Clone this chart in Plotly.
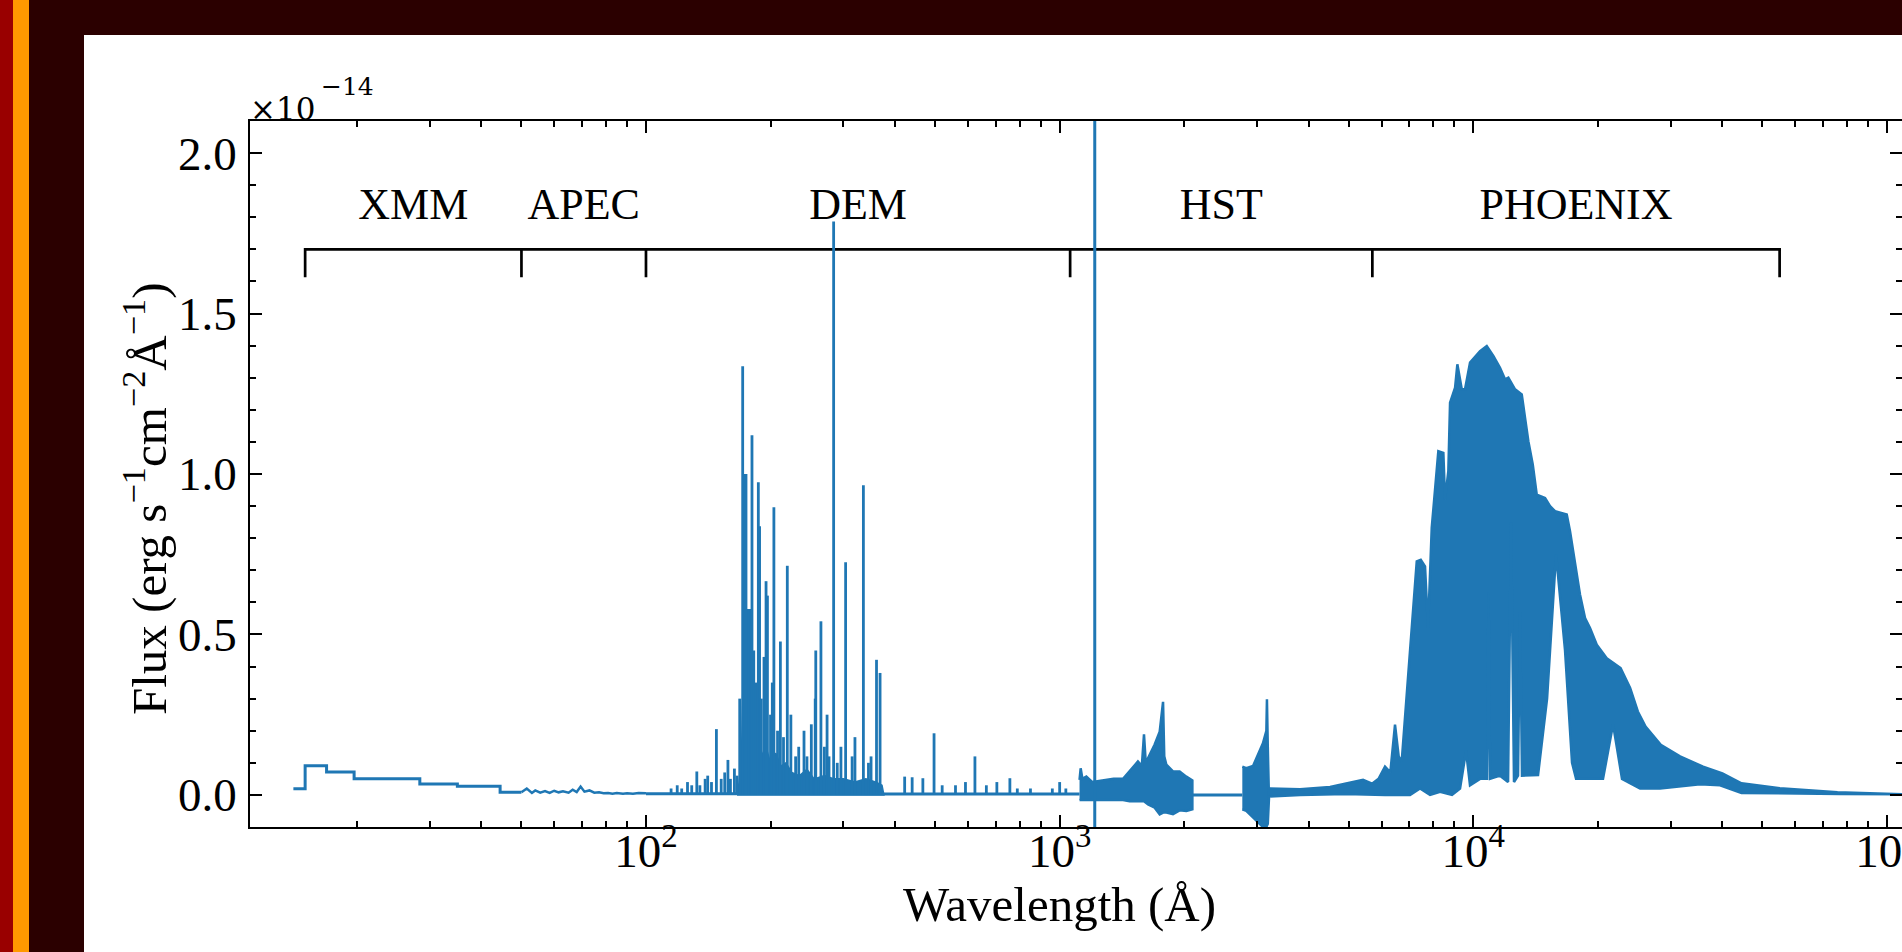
import math
import plotly.graph_objects as go

BLUE = "#1f77b4"
FONT = "Liberation Serif"

# ---------------- data (flux in units of 1e-14 erg s^-1 cm^-2 Å^-1) ----------------
# XMM binned spectrum: bin edges (Å) and flux per bin
xmm_edges = [14.05, 15.0, 16.9, 19.7, 28.4, 35.0, 44.4, 50.0]
xmm_flux = [0.019, 0.091, 0.071, 0.050, 0.034, 0.027, 0.008]

# APEC model (noisy, low level)
apec_wave = [50, 51.5, 53, 54, 55.5, 57, 58.5, 60, 61.5, 63, 65, 66.5, 68, 69.5, 71,
             73, 75, 77, 79, 81, 83, 85, 88, 90, 93, 96, 100]
apec_flux = [0.008, 0.020, 0.006, 0.014, 0.007, 0.012, 0.006, 0.013, 0.008, 0.011,
             0.007, 0.016, 0.009, 0.026, 0.010, 0.014, 0.007, 0.008, 0.005, 0.006,
             0.004, 0.006, 0.004, 0.005, 0.004, 0.006, 0.005]

# DEM continuum level
dem_base_wave = [100, 166, 376, 1117]
dem_base_flux = [0.004, 0.003, 0.003, 0.003]

# DEM: dense emission-line blend (upper edge)
blend_wave = [166, 168, 170, 171, 173, 179, 180, 183, 186, 190, 195, 200, 206, 212,
              218, 225, 235, 245, 255, 270, 285, 300, 320, 340, 360, 372, 376]
blend_top = [0.003, 0.04, 0.10, 0.30, 0.577, 0.577, 0.35, 0.20, 0.15, 0.12, 0.15,
             0.10, 0.13, 0.09, 0.10, 0.07, 0.06, 0.08, 0.05, 0.06, 0.05, 0.05, 0.04,
             0.05, 0.04, 0.03, 0.004]

# DEM: individual emission lines (wavelength Å, peak flux)
line_wave = [115, 119, 122, 126, 129, 132.7, 135, 139, 141, 144, 148, 152, 155, 157.8,
             160, 163.6, 166, 168.5, 171.3, 173.6, 174.5, 177.0, 180.4, 182.2, 184.5,
             186.9, 188.2, 190.0, 192.9, 195.1, 196.6, 200.0, 202.0, 203.8, 208.0,
             211.3, 215, 219.6, 224, 230, 234, 241, 245, 251, 256.5, 257.3, 264.8,
             270, 274, 277, 284.2, 290, 296, 303.8, 315, 320, 335.4, 345, 350, 360.8,
             368.0, 422, 440, 467, 497, 520, 560, 592, 624, 665, 705, 758, 790, 850,
             960, 1000, 1035]
line_peak = [0.02, 0.03, 0.02, 0.04, 0.03, 0.073, 0.03, 0.05, 0.06, 0.04, 0.205, 0.05,
             0.07, 0.109, 0.05, 0.082, 0.06, 0.30, 1.336, 1.0, 1.0, 0.577, 1.121, 0.45,
             0.35, 0.974, 0.837, 0.30, 0.43, 0.666, 0.621, 0.25, 0.35, 0.896, 0.20,
             0.478, 0.18, 0.714, 0.25, 0.12, 0.15, 0.20, 0.12, 0.22, 0.30, 0.45, 0.541,
             0.15, 0.25, 0.12, 1.787, 0.10, 0.15, 0.725, 0.12, 0.18, 0.965, 0.10, 0.12,
             0.421, 0.38, 0.057, 0.055, 0.052, 0.192, 0.03, 0.03, 0.04, 0.12, 0.03,
             0.04, 0.052, 0.02, 0.02, 0.02, 0.04, 0.02]

# Lyman alpha (goes off the top of the panel)
lya_wave = 1215.7
lya_low = -0.10
lya_peak = 3.0

# HST segment 1 (noisy band): wavelength, upper and lower edge
hst1_wave = [1117, 1124, 1135, 1160, 1200, 1285, 1350, 1423, 1476, 1546, 1580, 1599,
             1615, 1636, 1697, 1745, 1778, 1790, 1811, 1879, 1950, 2024, 2093]
hst1_upper = [0.047, 0.083, 0.050, 0.057, 0.040, 0.045, 0.050, 0.050, 0.073, 0.104,
              0.090, 0.189, 0.100, 0.115, 0.157, 0.197, 0.290, 0.120, 0.094, 0.073,
              0.073, 0.057, 0.045]
hst1_lower = [-0.016, -0.016, -0.016, -0.016, -0.016, -0.016, -0.016, -0.016, -0.020,
              -0.020, -0.020, -0.020, -0.025, -0.030, -0.040, -0.061, -0.055, -0.055,
              -0.055, -0.060, -0.048, -0.050, -0.045]

# gap between HST gratings
gap_wave = [2093, 2764]
gap_flux = [0.0, 0.0]

# HST segment 2
hst2_wave = [2764, 2826, 2934, 3044, 3100, 3160, 3170, 3185, 3206]
hst2_upper = [0.088, 0.083, 0.090, 0.139, 0.161, 0.200, 0.298, 0.150, 0.030]
hst2_lower = [-0.045, -0.050, -0.070, -0.090, -0.100, -0.100, -0.100, -0.090, -0.010]

# HST optical + PHOENIX model: upper edge of the dense band
phx_up_wave = [3206, 3812, 4504, 4923, 5412, 5690, 5900, 6116, 6300, 6466, 6600, 6712,
               7031, 7298, 7463, 7642, 7771, 7933, 8230, 8463, 8543, 8701, 8784, 9034,
               9149, 9376, 9548, 9818, 10380, 10775, 11177, 11600, 11929, 12151, 12613,
               13092, 13335, 13582, 13919, 14233, 14906, 15326, 15758, 16819, 17128,
               17612, 18109, 18621, 19145, 19876, 21011, 22695, 23933, 24982, 26078,
               28386, 31594, 35917, 39995, 44484, 55075, 75890, 108700]
phx_upper = [0.020, 0.018, 0.025, 0.036, 0.047, 0.035, 0.050, 0.088, 0.070, 0.219,
             0.120, 0.104, 0.450, 0.728, 0.733, 0.712, 0.520, 0.832, 1.071, 1.066,
             0.920, 1.009, 1.222, 1.269, 1.342, 1.264, 1.264, 1.347, 1.383, 1.399,
             1.368, 1.331, 1.295, 1.300, 1.264, 1.248, 1.175, 1.102, 1.030, 0.936,
             0.925, 0.900, 0.884, 0.874, 0.822, 0.718, 0.624, 0.551, 0.520, 0.468,
             0.426, 0.395, 0.333, 0.260, 0.213, 0.156, 0.120, 0.088, 0.067, 0.036,
             0.021, 0.008, 0.004]
# lower edge of the dense band
phx_low_wave = [3206, 3812, 4923, 6116, 7031, 7432, 7858, 8309, 8881, 9286, 9603, 9817,
                10380, 10793, 10882, 10975, 11600, 12132, 12334, 12540, 12823, 12966,
                13111, 13709, 14335, 15074, 15845, 16659, 17322, 17714, 20581, 21763,
                22878, 25291, 28264, 35318, 39480, 44484, 55075, 76960, 108700]
phx_lower = [-0.005, 0.000, 0.003, 0.000, 0.000, 0.020, 0.000, 0.010, 0.000, 0.020,
             0.137, 0.030, 0.050, 0.050, 0.630, 0.050, 0.060, 0.040, 0.850, 0.040,
             0.060, 0.570, 0.060, 0.060, 0.062, 0.300, 0.750, 0.450, 0.100, 0.050,
             0.050, 0.220, 0.050, 0.020, 0.020, 0.033, 0.030, 0.006, 0.006, 0.003,
             0.002]

# instrument / model segments
seg_edges = [15, 50, 100, 1060, 5700, 55000]
seg_names = ["XMM", "APEC", "DEM", "HST", "PHOENIX"]
bracket_top = 1.70
bracket_foot = 1.613
label_y = 1.83

# axis ticks
x_major = [100, 1000, 10000, 100000]
x_major_text = ["10<sup>2</sup>", "10<sup>3</sup>", "10<sup>4</sup>", "10<sup>5</sup>"]
x_minor = [m * 10 ** k for k in range(1, 5) for m in range(2, 10)]
y_major = [0.0, 0.5, 1.0, 1.5, 2.0]
y_major_text = ["0.0", "0.5", "1.0", "1.5", "2.0"]
y_minor = [0.1, 0.2, 0.3, 0.4, 0.6, 0.7, 0.8, 0.9, 1.1, 1.2, 1.3, 1.4, 1.6, 1.7,
           1.8, 1.9]

x_title = "Wavelength (Å)"
y_title = "Flux (erg s<sup>−1</sup>cm<sup>−2</sup>Å<sup>−1</sup>)"

# ---------------- layout geometry ----------------
W, H = 1902, 952
ML, MR, MT, MB = 250, 0, 121, 125
PW, PH = W - ML - MR, H - MT - MB


def px(xp):
    return (xp - ML) / PW


def py(yp):
    return (H - MB - yp) / PH


fig = go.Figure()

# bracket
bx, by = [], []
for i, e in enumerate(seg_edges):
    if i == 0:
        bx += [e, e]
        by += [bracket_foot, bracket_top]
    elif i == len(seg_edges) - 1:
        bx += [e, e]
        by += [bracket_top, bracket_foot]
    else:
        bx += [e, e, e]
        by += [bracket_top, bracket_foot, bracket_top]
fig.add_trace(go.Scatter(x=bx, y=by, mode="lines", line=dict(color="black", width=2.7),
                         hoverinfo="skip"))

line_style = dict(color=BLUE, width=3)

# XMM steps
fig.add_trace(go.Scatter(x=xmm_edges, y=xmm_flux + [xmm_flux[-1]], mode="lines",
                         line=dict(color=BLUE, width=3, shape="hv")))
# APEC
fig.add_trace(go.Scatter(x=apec_wave, y=apec_flux, mode="lines",
                         line=dict(color=BLUE, width=2.5)))
# DEM base
fig.add_trace(go.Scatter(x=dem_base_wave, y=dem_base_flux, mode="lines", line=line_style))
# DEM blend
fig.add_trace(go.Scatter(x=blend_wave + blend_wave[::-1],
                         y=blend_top + [0.0] * len(blend_wave), mode="lines",
                         fill="toself", fillcolor=BLUE, line=dict(color=BLUE, width=1.5)))
# DEM lines
lx, ly = [], []
for w, p in zip(line_wave, line_peak):
    lx += [w, w, None]
    ly += [0.0, p, None]
fig.add_trace(go.Scatter(x=lx, y=ly, mode="lines", line=dict(color=BLUE, width=2.8)))


def band(wu, up, wl, lo):
    fig.add_trace(go.Scatter(x=list(wu) + list(wl)[::-1], y=list(up) + list(lo)[::-1],
                             mode="lines", fill="toself", fillcolor=BLUE,
                             line=dict(color=BLUE, width=2.5)))


band(hst1_wave, hst1_upper, hst1_wave, hst1_lower)
fig.add_trace(go.Scatter(x=gap_wave, y=gap_flux, mode="lines", line=line_style))
band(hst2_wave, hst2_upper, hst2_wave, hst2_lower)
band(phx_up_wave, phx_upper, phx_low_wave, phx_lower)

# Lyman alpha
fig.add_trace(go.Scatter(x=[lya_wave, lya_wave], y=[lya_low, lya_peak], mode="lines",
                         line=dict(color=BLUE, width=3)))

# segment labels
label_x = [math.sqrt(a * b) for a, b in zip(seg_edges[:-1], seg_edges[1:])]
fig.add_trace(go.Scatter(x=label_x, y=[label_y] * len(seg_names), mode="text",
                         text=seg_names, textposition="middle center",
                         textfont=dict(family=FONT, size=44, color="black")))

# background framing (page around the figure)
shapes = [
    dict(type="rect", xref="paper", yref="paper", x0=px(84), x1=px(W + 5), y0=py(H + 5),
         y1=py(35), fillcolor="white", line=dict(width=0), layer="below"),
    dict(type="rect", xref="paper", yref="paper", x0=px(-5), x1=px(13), y0=py(H + 5),
         y1=py(-5), fillcolor="#990000", line=dict(width=0), layer="below"),
    dict(type="rect", xref="paper", yref="paper", x0=px(13), x1=px(29), y0=py(H + 5),
         y1=py(-5), fillcolor="#ff9900", line=dict(width=0), layer="below"),
]

tick_font = dict(family=FONT, size=47, color="black")
title_font = dict(family=FONT, size=49, color="black")
OFFSET_FONT = "DejaVu Serif"

fig.update_layout(
    width=W, height=H,
    margin=dict(l=ML, r=MR, t=MT, b=MB, pad=0, autoexpand=False),
    paper_bgcolor="#2b0000",
    plot_bgcolor="white",
    showlegend=False,
    shapes=shapes,
    annotations=[
        dict(xref="paper", yref="paper", x=px(248), y=py(109), xanchor="left",
             yanchor="middle", showarrow=False, text="×10",
             font=dict(family=OFFSET_FONT, size=31, color="black")),
        dict(xref="paper", yref="paper", x=px(319), y=py(87), xanchor="left",
             yanchor="middle", showarrow=False, text="−14",
             font=dict(family=OFFSET_FONT, size=25, color="black")),
        dict(xref="paper", yref="paper", x=px(1059), y=py(904), xanchor="center",
             yanchor="middle", showarrow=False, text=x_title, font=title_font),
        dict(xref="paper", yref="paper", x=px(145), y=py(499), xanchor="center",
             yanchor="middle", showarrow=False, text=y_title, font=title_font,
             textangle=-90),
    ],
    xaxis=dict(type="log", range=[1.0428, 5.0362], showgrid=False, zeroline=False,
               automargin=False,
               showline=True, linecolor="black", linewidth=1.5, mirror="ticks",
               ticks="inside", ticklen=12.7, tickwidth=1.5, tickcolor="black",
               tickmode="array", tickvals=x_major, ticktext=x_major_text,
               tickfont=tick_font, ticklabeloverflow="allow", ticklabelstandoff=-18,
               minor=dict(tickmode="array", tickvals=x_minor, ticks="inside",
                          ticklen=6.7, tickwidth=1.5, tickcolor="black", showgrid=False)),
    yaxis=dict(range=[-0.1, 2.1], showgrid=False, zeroline=False,
               automargin=False,
               showline=True, linecolor="black", linewidth=1.5, mirror="ticks",
               ticks="inside", ticklen=12.7, tickwidth=1.5, tickcolor="black",
               tickmode="array", tickvals=y_major, ticktext=y_major_text,
               tickfont=tick_font, ticklabelstandoff=2,
               minor=dict(tickmode="array", tickvals=y_minor, ticks="inside",
                          ticklen=6.7, tickwidth=1.5, tickcolor="black", showgrid=False)),
)

fig.write_html("out.html", config={"displayModeBar": False})
